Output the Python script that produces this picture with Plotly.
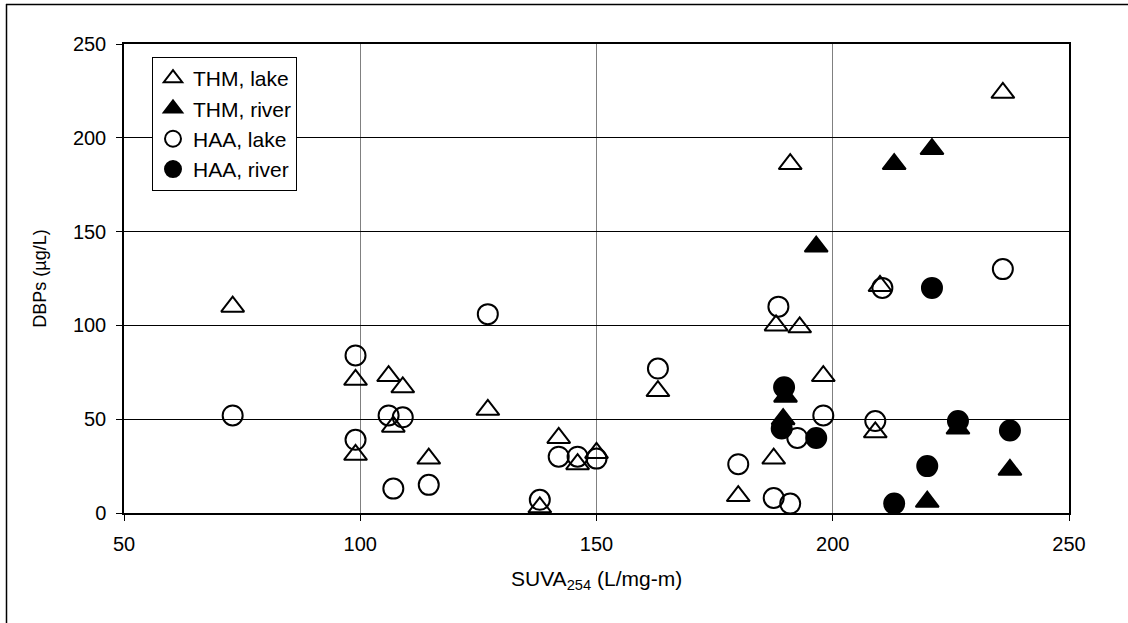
import plotly.graph_objects as go

# THM, lake
thm_lake_x = [73, 99, 106, 109, 107, 99, 114.5, 127, 142, 146, 150, 138, 163, 180, 187.5, 188, 193, 198, 209, 236, 191, 210]
thm_lake_y = [110, 71, 73, 67, 46, 31, 29, 55, 40, 26, 32, 3, 65, 9, 29, 100, 99, 73, 43, 224, 186, 121]
# THM, river
thm_river_x = [213, 221, 196.5, 190, 189.5, 226.5, 237.5, 220]
thm_river_y = [186, 194, 142, 62, 50, 45, 23, 6]
# HAA, lake
haa_lake_x = [73, 99, 99, 106, 109, 107, 114.5, 127, 142, 146, 150, 138, 163, 180, 187.5, 191, 188.5, 192.5, 198, 209, 210.5, 236]
haa_lake_y = [52, 84, 39, 52, 51, 13, 15, 106, 30, 30, 29, 7, 77, 26, 8, 5, 110, 40, 52, 49, 120, 130]
# HAA, river
haa_river_x = [189.7, 189.2, 196.5, 221, 226.5, 237.5, 220, 213]
haa_river_y = [67, 45, 40, 120, 49, 44, 25, 5]

x_ticks = [50, 100, 150, 200, 250]
y_ticks = [0, 50, 100, 150, 200, 250]

FONT = "Liberation Sans, Arial, sans-serif"

fig = go.Figure()
fig.add_trace(go.Scatter(x=thm_lake_x, y=thm_lake_y, mode="markers", name="THM, lake",
                         marker=dict(symbol="triangle-up-open", size=20, color="black",
                                     line=dict(width=2, color="black"))))
fig.add_trace(go.Scatter(x=thm_river_x, y=thm_river_y, mode="markers", name="THM, river",
                         marker=dict(symbol="triangle-up", size=20, color="black",
                                     line=dict(width=2, color="black"))))
fig.add_trace(go.Scatter(x=haa_lake_x, y=haa_lake_y, mode="markers", name="HAA, lake",
                         marker=dict(symbol="circle-open", size=20, color="black",
                                     line=dict(width=2, color="black"))))
fig.add_trace(go.Scatter(x=haa_river_x, y=haa_river_y, mode="markers", name="HAA, river",
                         marker=dict(symbol="circle", size=20, color="black",
                                     line=dict(width=2, color="black"))))

L, R, T, B = 124, 59, 44, 110
W, H = 1128, 623
pw, ph = W - L - R, H - T - B

def px2x(p):
    return (p - L) / pw

def px2y(p):
    return (H - B - p) / ph

fig.update_layout(
    width=W, height=H,
    margin=dict(l=L, r=R, t=T, b=B, autoexpand=False),
    paper_bgcolor="white", plot_bgcolor="white",
    font=dict(family=FONT, size=20, color="black"),
    showlegend=True,
    legend=dict(x=px2x(152), y=px2y(57), xanchor="left", yanchor="top",
                bordercolor="black", borderwidth=1, bgcolor="white",
                font=dict(family=FONT, size=21, color="black"),
                itemwidth=30, tracegroupgap=0),
    xaxis=dict(range=[50, 250], tickvals=x_ticks, ticktext=[str(v) for v in x_ticks],
               showgrid=True, gridcolor="#808080", gridwidth=1,
               showline=True, linecolor="black", linewidth=1.5, mirror=True,
               ticks="outside", ticklen=6, tickcolor="black", tickwidth=1,
               tickfont=dict(family=FONT, size=20, color="black"),
               ticklabelstandoff=6, zeroline=False),
    yaxis=dict(range=[0, 250], tickvals=y_ticks, ticktext=[str(v) for v in y_ticks],
               showgrid=True, gridcolor="black", gridwidth=1,
               showline=True, linecolor="black", linewidth=1.5, mirror=True,
               ticks="outside", ticklen=6, tickcolor="black", tickwidth=1,
               tickfont=dict(family=FONT, size=20, color="black"),
               ticklabelstandoff=6, zeroline=False,
               title=dict(text="DBPs (µg/L)", standoff=22,
                          font=dict(family=FONT, size=18, color="black"))),
    annotations=[
        dict(text="SUVA<sub>254</sub> (L/mg-m)", xref="paper", yref="paper",
             x=0.5, y=px2y(580), xanchor="center", yanchor="middle", showarrow=False,
             font=dict(family=FONT, size=21, color="black")),
    ],
    shapes=[
        dict(type="line", xref="paper", yref="paper", x0=px2x(6), x1=px2x(1140),
             y0=px2y(4.5), y1=px2y(4.5), line=dict(color="black", width=1.5)),
        dict(type="line", xref="paper", yref="paper", x0=px2x(6.5), x1=px2x(6.5),
             y0=px2y(4), y1=px2y(640), line=dict(color="black", width=1.5)),
    ],
)

fig.write_html("out.html")
